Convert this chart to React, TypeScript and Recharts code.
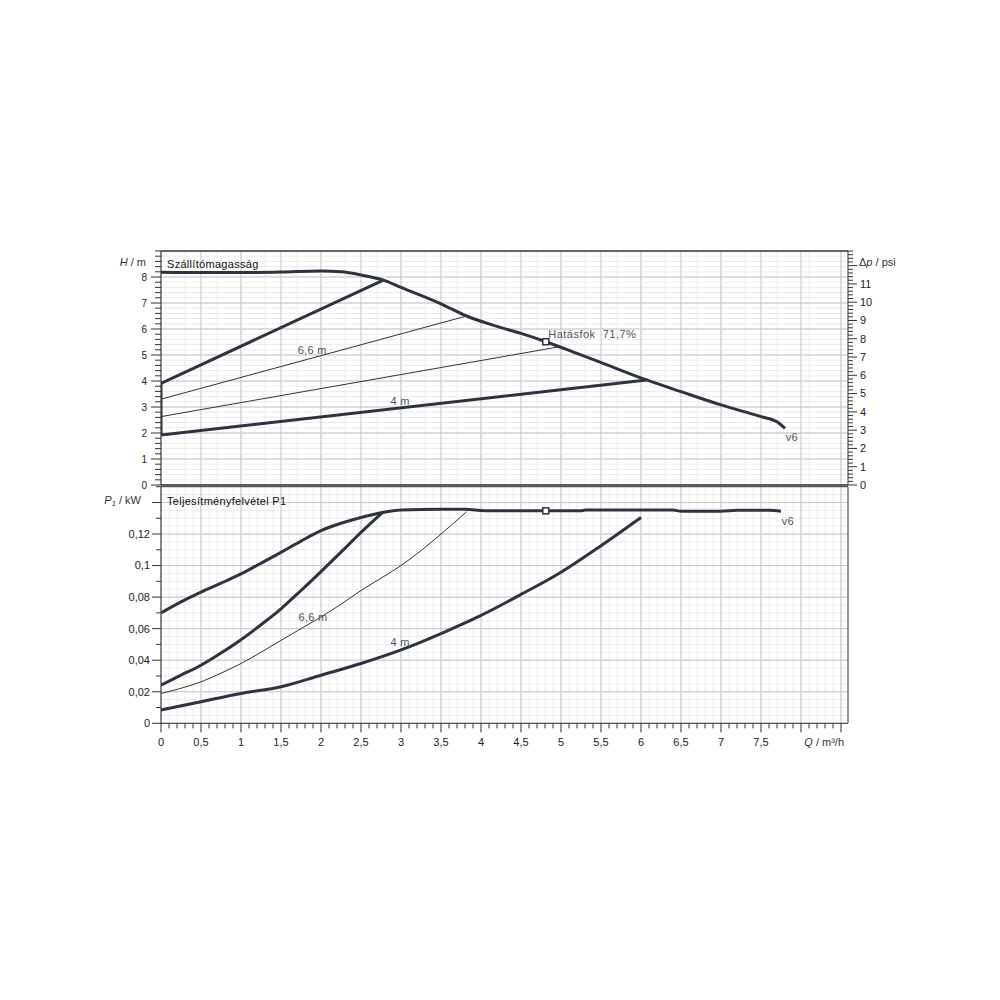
import React from "react";
import { LineChart, Line, XAxis, YAxis, CartesianGrid, ReferenceLine, ReferenceDot, Label } from "recharts";

// --- axis ranges & tick labels ---
const Q_MAX = 8.5875;
const H_MAX = 9;
const P_MAX = 0.15;
const M_PER_PSI = 0.70307;

const qMajor = [0, 0.5, 1, 1.5, 2, 2.5, 3, 3.5, 4, 4.5, 5, 5.5, 6, 6.5, 7, 7.5, 8, 8.5];
const qLabels = ["0", "0,5", "1", "1,5", "2", "2,5", "3", "3,5", "4", "4,5", "5", "5,5", "6", "6,5", "7", "7,5"];
const hMajor = [0, 1, 2, 3, 4, 5, 6, 7, 8];
const hLabels = ["0", "1", "2", "3", "4", "5", "6", "7", "8"];
const psiMajor = [0, 1, 2, 3, 4, 5, 6, 7, 8, 9, 10, 11, 12];
const psiLabels = ["0", "1", "2", "3", "4", "5", "6", "7", "8", "9", "10", "11"];
const pMajor = [0, 0.02, 0.04, 0.06, 0.08, 0.1, 0.12, 0.14];
const pLabels = ["0", "0,02", "0,04", "0,06", "0,08", "0,1", "0,12"];

// --- head curves H(Q) [Q m³/h, H m] ---
const headMax: [number, number][] = [
  [0, 8.18], [0.5, 8.17], [1, 8.17], [1.5, 8.19], [2, 8.23], [2.25, 8.2], [2.5, 8.08], [2.78, 7.88],
  [3, 7.6], [3.5, 6.97], [3.82, 6.5], [4.2, 6.1], [4.5, 5.83], [4.81, 5.51], [5.2, 5.06], [5.6, 4.59],
  [6.07, 4.04], [6.5, 3.59], [7, 3.08], [7.5, 2.63], [7.7, 2.43], [7.8, 2.18],
];
const headUpper: [number, number][] = [[0, 3.91], [2.78, 7.88]];
const head66: [number, number][] = [[0, 3.3], [3.82, 6.5]];
const headMid: [number, number][] = [[0, 2.63], [4.95, 5.3]];
const head4m: [number, number][] = [[0, 1.92], [6.07, 4.04]];
const headZero: [number, number][] = [[0, 1.92], [0, 3.91]];

// --- power curves P1(Q) [Q m³/h, P kW] ---
const powerMax: [number, number][] = [
  [0, 0.07], [0.25, 0.077], [0.5, 0.0832], [0.75, 0.0888], [1, 0.0947], [1.25, 0.1015], [1.5, 0.1084],
  [1.75, 0.1155], [2, 0.1221], [2.25, 0.1268], [2.5, 0.1305], [2.77, 0.1337], [3, 0.1352], [3.5, 0.1357],
  [3.8, 0.1357], [4.05, 0.1348], [4.8, 0.1347], [5.25, 0.1347], [5.3, 0.1352], [6.4, 0.1352], [6.5, 0.1345],
  [7, 0.1345], [7.2, 0.135], [7.6, 0.135], [7.75, 0.1345],
];
const powerUpper: [number, number][] = [
  [0, 0.0242], [0.25, 0.0305], [0.5, 0.0368], [0.75, 0.0445], [1, 0.053], [1.25, 0.0625], [1.5, 0.0726],
  [1.75, 0.0842], [2, 0.0962], [2.25, 0.1085], [2.5, 0.121], [2.77, 0.1337],
];
const power66: [number, number][] = [
  [0, 0.0189], [0.25, 0.0222], [0.5, 0.0263], [0.75, 0.0318], [1, 0.0379], [1.25, 0.045], [1.5, 0.0526],
  [1.75, 0.06], [2, 0.0674], [2.25, 0.0755], [2.5, 0.0842], [2.75, 0.092], [3, 0.1], [3.25, 0.1095],
  [3.5, 0.12], [3.82, 0.1341],
];
const power4m: [number, number][] = [
  [0, 0.0084], [0.5, 0.0137], [1, 0.0189], [1.5, 0.0232], [2, 0.0305], [2.5, 0.0379], [3, 0.0465],
  [3.5, 0.0569], [4, 0.0684], [4.5, 0.0817], [5, 0.0958], [5.5, 0.1126], [6, 0.1305],
];

const DARK = "#2d3340";
const THIN = "#333";
const LABEL = "#4a5563";
const FONT = "'Liberation Sans', Arial, sans-serif";

const steps = (end: number, step: number) => {
  const out: number[] = [];
  for (let i = 0; i * step <= end + 1e-9; i++) out.push(Math.round(i * step * 10000) / 10000);
  return out;
};
const qMinor = steps(8.5, 0.1);
const hMinor = steps(9, 0.2);
const psiMinor = steps(12.8, 0.2);
const pMinor = steps(0.15, 0.005);
const pTicks = steps(0.15, 0.01);

const pts = (arr: [number, number][]) => arr.map(([q, v]) => ({ q, v }));

function tickFor(side: "left" | "right" | "bottom", majors: number[], labels: string[], majorLen: number, minorLen: number, gap: number, fontSize = 11) {
  return (props: any) => {
    const { x, y, payload } = props;
    const idx = majors.findIndex((m) => Math.abs(m - payload.value) < 1e-6);
    const len = idx >= 0 ? majorLen : minorLen;
    const label = idx >= 0 ? labels[idx] ?? "" : "";
    const common = { fill: "#222", fontSize, fontFamily: FONT };
    if (side === "left")
      return (
        <g>
          <line x1={x - len} x2={x} y1={y} y2={y} stroke="#333" />
          {label && <text x={x - gap} y={y} dy="0.35em" textAnchor="end" {...common}>{label}</text>}
        </g>
      );
    if (side === "right")
      return (
        <g>
          <line x1={x} x2={x + len} y1={y} y2={y} stroke="#333" />
          {label && <text x={x + gap} y={y} dy="0.35em" textAnchor="start" {...common}>{label}</text>}
        </g>
      );
    return (
      <g>
        <line x1={x} x2={x} y1={y} y2={y + len} stroke="#333" />
        {label && <text x={x} y={y + 23} textAnchor="middle" {...common}>{label}</text>}
      </g>
    );
  };
}

const textShape = (txt: string, anchor: "start" | "middle" = "start", fill = LABEL, spacing = 0.3) => (p: any) => (
  <text x={p.cx} y={p.cy} dy="0.35em" textAnchor={anchor} fill={fill} fontSize={11} fontFamily={FONT} letterSpacing={spacing}>
    {txt}
  </text>
);
const squareShape = (p: any) => (
  <rect x={p.cx - 3} y={p.cy - 3} width={6} height={6} fill="#fff" stroke={DARK} strokeWidth={1.5} />
);

export default function App() {
  return (
    <div style={{ position: "absolute", left: 0, top: 0, width: 1000, height: 1000, background: "#fff", fontFamily: FONT }}>
      <div style={{ position: "absolute", left: 0, top: 0 }}>
        <LineChart width={1000} height={1000} margin={{ top: 251, right: 0, bottom: 515, left: 0 }}>
          <CartesianGrid stroke="#ececec" verticalValues={qMinor} horizontalValues={hMinor} />
          <CartesianGrid stroke="#c6c6c6" verticalValues={qMajor} horizontalValues={hMajor} />
          <XAxis type="number" dataKey="q" domain={[0, Q_MAX]} allowDataOverflow hide />
          <YAxis
            type="number" domain={[0, H_MAX]} allowDataOverflow width={161} ticks={hMinor} interval={0}
            tickSize={0} tickMargin={0} axisLine={{ stroke: "#333" }} tick={tickFor("left", hMajor, hLabels, 10, 6, 14, 10)}
          >
            <Label content={(p: any) => (
              <text x={p.viewBox.x + p.viewBox.width - 15} y={p.viewBox.y + 15} textAnchor="end" fill="#333" fontSize={11} fontFamily={FONT}>
                <tspan fontStyle="italic">H</tspan> / m
              </text>
            )} />
          </YAxis>
          <YAxis
            yAxisId="psi" orientation="right" type="number" domain={[0, H_MAX / M_PER_PSI]} allowDataOverflow width={152}
            ticks={psiMinor} interval={0} tickSize={0} tickMargin={0} axisLine={{ stroke: "#333" }}
            tick={tickFor("right", psiMajor, psiLabels, 9, 5, 12)}
          >
            <Label content={(p: any) => (
              <text x={p.viewBox.x + 11} y={p.viewBox.y + 15} textAnchor="start" fill="#333" fontSize={11} fontFamily={FONT}>
                Δ<tspan fontStyle="italic">p</tspan> / psi
              </text>
            )} />
          </YAxis>
          <ReferenceLine y={H_MAX} stroke="#333" strokeWidth={1.5} />
          <ReferenceLine y={0} stroke="#333" strokeWidth={1.5} />
          <Line data={pts(headUpper)} dataKey="v" type="linear" stroke={DARK} strokeWidth={3} dot={false} isAnimationActive={false} />
          <Line data={pts(head66)} dataKey="v" type="linear" stroke={THIN} strokeWidth={1} dot={false} isAnimationActive={false} />
          <Line data={pts(headMid)} dataKey="v" type="linear" stroke={THIN} strokeWidth={1} dot={false} isAnimationActive={false} />
          <Line data={pts(head4m)} dataKey="v" type="linear" stroke={DARK} strokeWidth={3} dot={false} isAnimationActive={false} />
          <Line data={pts(headZero)} dataKey="v" type="linear" stroke={DARK} strokeWidth={3} dot={false} isAnimationActive={false} />
          <Line data={pts(headMax)} dataKey="v" type="monotone" stroke={DARK} strokeWidth={3} dot={false} isAnimationActive={false} />
          <ReferenceDot x={4.81} y={5.51} shape={squareShape} />
          <ReferenceDot x={0.075} y={8.5} shape={textShape("Szállítómagasság", "start", "#111")} />
          <ReferenceDot x={1.89} y={5.19} shape={textShape("6,6 m", "middle")} />
          <ReferenceDot x={2.99} y={3.23} shape={textShape("4 m", "middle")} />
          <ReferenceDot x={4.84} y={5.8} shape={textShape("Hatásfok\u00a0\u00a071,7%", "start", LABEL, 0.5)} />
          <ReferenceDot x={7.81} y={1.85} shape={textShape("v6")} />
        </LineChart>
      </div>
      <div style={{ position: "absolute", left: 0, top: 0 }}>
        <LineChart width={1000} height={1000} margin={{ top: 486.7, right: 152, bottom: 236.7, left: 0 }}>
          <CartesianGrid stroke="#ececec" verticalValues={qMinor} horizontalValues={pMinor} />
          <CartesianGrid stroke="#c6c6c6" verticalValues={qMajor} horizontalValues={pMajor} />
          <XAxis
            type="number" dataKey="q" domain={[0, Q_MAX]} allowDataOverflow height={40} ticks={qMinor} interval={0}
            tickSize={0} tickMargin={0} axisLine={{ stroke: "#333" }} tick={tickFor("bottom", qMajor, qLabels, 9, 5, 0)}
          >
            <Label content={(p: any) => (
              <text x={p.viewBox.x + p.viewBox.width - 4} y={p.viewBox.y + 23} textAnchor="end" fill="#333" fontSize={11} fontFamily={FONT}>
                <tspan fontStyle="italic">Q</tspan> / m³/h
              </text>
            )} />
          </XAxis>
          <YAxis
            type="number" domain={[0, P_MAX]} allowDataOverflow width={161} ticks={pTicks} interval={0}
            tickSize={0} tickMargin={0} axisLine={{ stroke: "#333" }} tick={tickFor("left", pMajor, pLabels, 9, 5, 11)}
          >
            <Label content={(p: any) => (
              <text x={p.viewBox.x + p.viewBox.width - 20} y={p.viewBox.y + 17} textAnchor="end" fill="#333" fontSize={11} fontFamily={FONT}>
                <tspan fontStyle="italic">P</tspan><tspan fontSize={8} dy={2} fontStyle="italic">1</tspan><tspan dy={-2}> / kW</tspan>
              </text>
            )} />
          </YAxis>
          <ReferenceLine y={P_MAX} stroke="#333" strokeWidth={1} />
          <ReferenceLine x={Q_MAX} stroke="#333" strokeWidth={1} />
          <Line data={pts(power66)} dataKey="v" type="monotone" stroke={THIN} strokeWidth={1} dot={false} isAnimationActive={false} />
          <Line data={pts(power4m)} dataKey="v" type="monotone" stroke={DARK} strokeWidth={3} dot={false} isAnimationActive={false} />
          <Line data={pts(powerUpper)} dataKey="v" type="monotone" stroke={DARK} strokeWidth={3} dot={false} isAnimationActive={false} />
          <Line data={pts(powerMax)} dataKey="v" type="monotone" stroke={DARK} strokeWidth={3} dot={false} isAnimationActive={false} />
          <ReferenceDot x={4.81} y={0.1347} shape={squareShape} />
          <ReferenceDot x={0.075} y={0.141} shape={textShape("Teljesítményfelvétel P1", "start", "#111")} />
          <ReferenceDot x={1.9} y={0.0671} shape={textShape("6,6 m", "middle")} />
          <ReferenceDot x={2.99} y={0.0516} shape={textShape("4 m", "middle")} />
          <ReferenceDot x={7.76} y={0.1283} shape={textShape("v6")} />
        </LineChart>
      </div>
    </div>
  );
}
